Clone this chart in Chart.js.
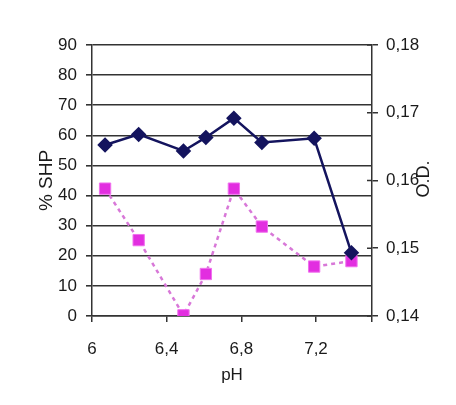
<!DOCTYPE html>
<html>
<head>
<meta charset="utf-8">
<script src="https://cdn.jsdelivr.net/npm/chart.js@4.4.1/dist/chart.umd.min.js"></script>
<style>
html,body{margin:0;padding:0;background:#fff;}
#wrap{width:456px;height:405px;}
</style>
</head>
<body>
<div id="wrap"><canvas id="c" width="456" height="405"></canvas></div>
<script>
const phValues = [6.07, 6.25, 6.49, 6.61, 6.76, 6.91, 7.19, 7.39];
const shpValues = [56.8, 60.3, 54.8, 59.3, 65.7, 57.6, 59.0, 21.0];
const odValues = [0.1588, 0.1512, 0.1401, 0.1462, 0.1588, 0.1532, 0.1473, 0.1481];
const xTickLabels = ['6', '6,4', '6,8', '7,2'];
const leftTitle = '% SHP';
const rightTitle = 'O.D.';
const xTitle = 'pH';

const FONT = "'Liberation Sans', Arial, sans-serif";

const rightTitlePlugin = {
  id: 'rightTitle',
  afterDraw(chart) {
    const ctx = chart.ctx;
    const area = chart.chartArea;
    const y1 = chart.scales.y1;
    ctx.save();
    ctx.strokeStyle = '#333';
    ctx.lineWidth = 1.5;
    y1.ticks.forEach(t => {
      const py = y1.getPixelForValue(t.value);
      ctx.beginPath();
      ctx.moveTo(area.right - 5, py);
      ctx.lineTo(area.right, py);
      ctx.stroke();
    });
    ctx.translate(424, 179);
    ctx.rotate(-Math.PI / 2);
    ctx.fillStyle = '#1a1a1a';
    ctx.font = "18px " + FONT;
    ctx.textAlign = 'center';
    ctx.textBaseline = 'middle';
    ctx.fillText(rightTitle, 0, 0);
    ctx.restore();
  }
};

new Chart(document.getElementById('c'), {
  type: 'scatter',
  data: {
    datasets: [
      {
        label: leftTitle,
        data: phValues.map((x, i) => ({x, y: shpValues[i]})),
        yAxisID: 'y',
        showLine: true,
        borderColor: '#14145e',
        backgroundColor: '#14145e',
        borderWidth: 2.5,
        pointStyle: 'rectRot',
        pointRadius: 6,
        pointHoverRadius: 6,
        tension: 0
      },
      {
        label: rightTitle,
        data: phValues.map((x, i) => ({x, y: odValues[i]})),
        yAxisID: 'y1',
        showLine: true,
        borderColor: '#d878d8',
        backgroundColor: '#e22ee0',
        pointBorderColor: '#f070ee',
        pointBorderWidth: 1,
        borderWidth: 2.5,
        borderDash: [4, 4],
        pointStyle: 'rect',
        pointRadius: 8,
        pointHoverRadius: 8,
        tension: 0
      }
    ]
  },
  options: {
    responsive: false,
    animation: false,
    events: [],
    layout: {padding: {top: 45, right: 0, bottom: 0, left: 0}},
    plugins: {legend: {display: false}, tooltip: {enabled: false}},
    scales: {
      x: {
        type: 'linear',
        min: 6, max: 7.5,
        afterFit(s) { s.height = 89; },
        border: {display: true, color: '#333', width: 1.5},
        grid: {drawOnChartArea: false, drawTicks: true, tickLength: 6, color: '#333', lineWidth: 1.5},
        ticks: {
          stepSize: 0.4,
          padding: 17,
          maxRotation: 0,
          color: '#1a1a1a',
          font: {size: 17, family: FONT},
          callback(v) {
            const idx = [6, 6.4, 6.8, 7.2].findIndex(t => Math.abs(t - v) < 1e-6);
            return idx >= 0 ? xTickLabels[idx] : '';
          }
        },
        title: {display: true, text: xTitle, color: '#1a1a1a', font: {size: 17, family: FONT}, padding: {top: 0, bottom: 19}}
      },
      y: {
        position: 'left',
        min: 0, max: 90,
        afterFit(s) { s.width = 92; },
        border: {display: true, color: '#333', width: 1.5},
        grid: {color: '#333', lineWidth: 1.6, tickLength: 6},
        ticks: {stepSize: 10, padding: 9, color: '#1a1a1a', font: {size: 17, family: FONT}},
        title: {display: true, text: leftTitle, color: '#1a1a1a', font: {size: 19, family: FONT}, padding: {top: 35, bottom: 0}}
      },
      y1: {
        position: 'right',
        min: 0.14, max: 0.18,
        afterFit(s) { s.width = 84; },
        border: {display: true, color: '#333', width: 1.5},
        grid: {drawOnChartArea: false, color: '#333', lineWidth: 1.5, tickLength: 6},
        ticks: {
          stepSize: 0.01, padding: 8, color: '#1a1a1a', font: {size: 17, family: FONT},
          callback(v) { return v.toFixed(2).replace('.', ','); }
        }
      }
    }
  },
  plugins: [rightTitlePlugin]
});
</script>
</body>
</html>
